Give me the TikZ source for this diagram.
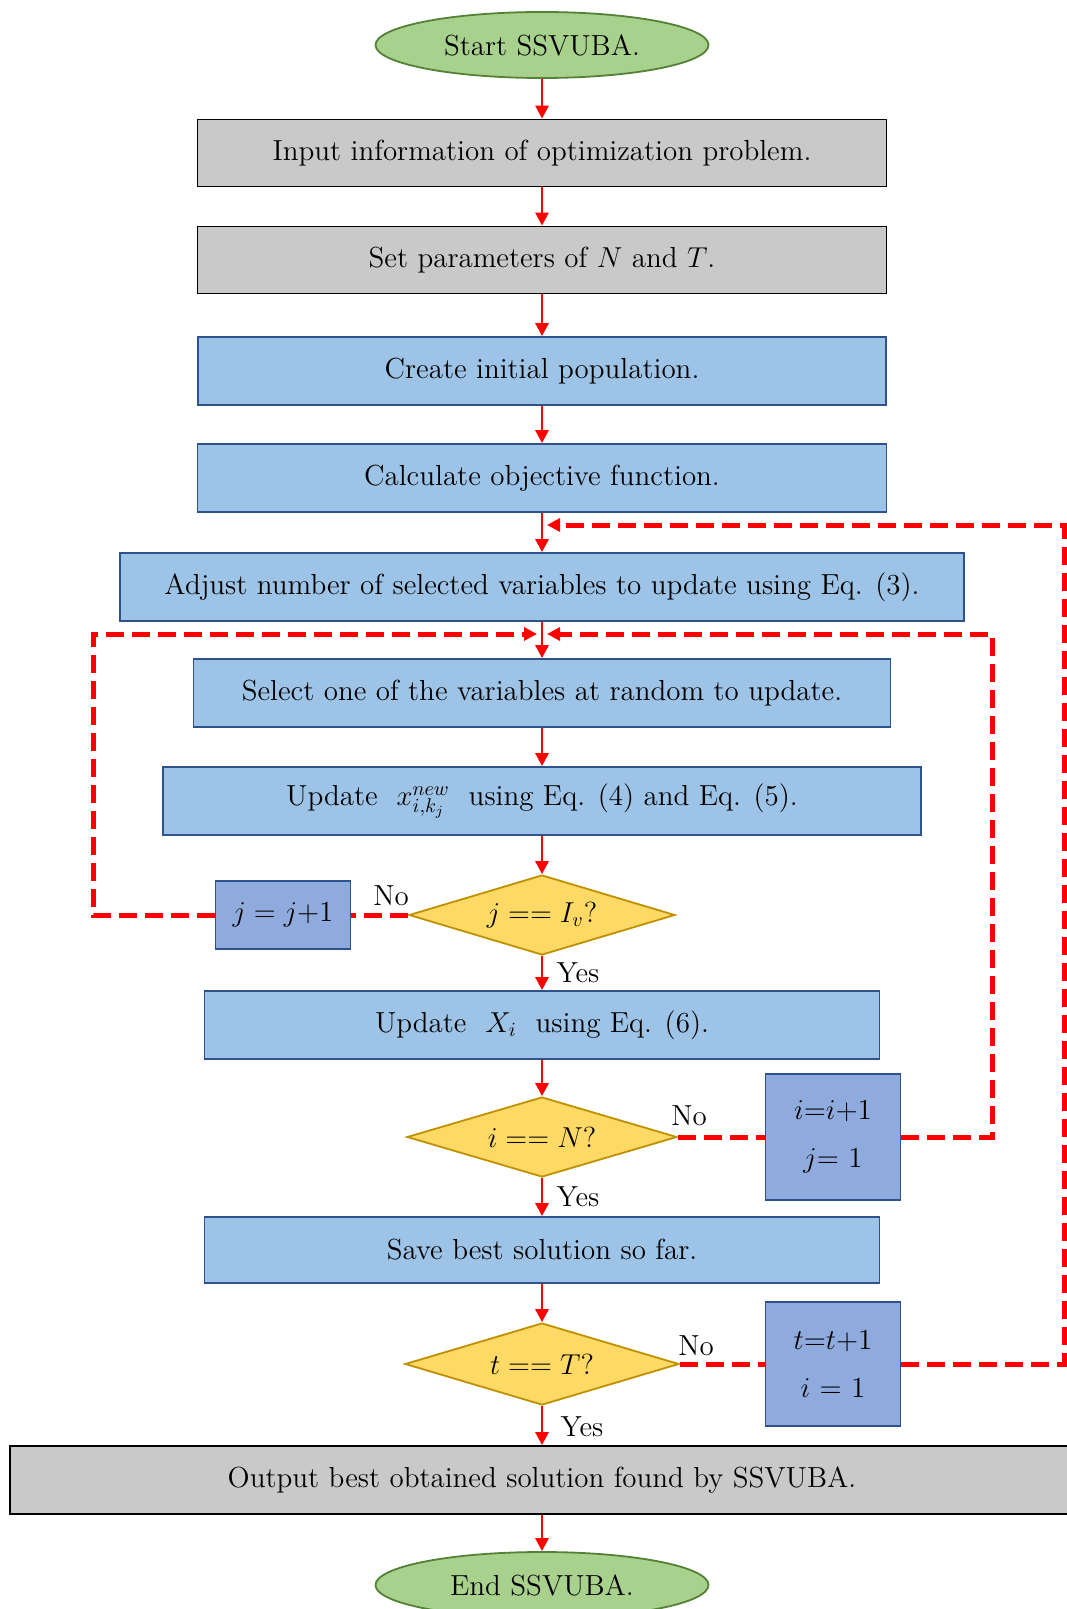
\documentclass[tikz,border=0pt]{standalone}
\usetikzlibrary{shapes.geometric}
\usetikzlibrary{arrows.meta}

\definecolor{greyfill}{HTML}{C9C9C9}
\definecolor{bluefill}{HTML}{9DC3E6}
\definecolor{incfill}{HTML}{8FAADC}
\definecolor{blueline}{HTML}{2F528F}
\definecolor{yellowfill}{HTML}{FFD966}
\definecolor{yellowline}{HTML}{BF9000}
\definecolor{greenfill}{HTML}{A9D18E}
\definecolor{greenline}{HTML}{538135}

\begin{document}
\begin{tikzpicture}[x=0.5pt,y=-0.5pt,
  every node/.style={font=\fontsize{14.5}{17}\selectfont,inner sep=0pt,line width=0.9pt},
  terminal/.style={ellipse,draw=greenline,fill=greenfill,minimum width=166.5pt,minimum height=33pt},
  greybox/.style={draw=black,fill=greyfill,minimum height=33.5pt},
  bluebox/.style={draw=blueline,fill=bluefill,minimum height=34pt},
  incbox/.style={draw=blueline,fill=incfill,minimum width=67.5pt,align=center},
  decision/.style={diamond,draw=yellowline,fill=yellowfill,aspect=3.3},
  lbl/.style={inner sep=1pt},
  flow/.style={red,line width=1.4pt,->},
  backflow/.style={red,line width=2.5pt,dash pattern=on 9pt off 4pt},
  >={Triangle[length=6.5pt,width=6.5pt]}]
\useasboundingbox (0,0) rectangle (1066,1609);

\node[terminal](start) at (542, 45) {Start SSVUBA.};
\node[greybox,minimum width=344.5pt](inp) at (542, 153) {Input information of optimization problem.};
\node[greybox,minimum width=344.5pt](par) at (542, 260) {Set parameters of $N$ and $T$.};
\node[bluebox,minimum width=344pt](pop) at (542, 371) {Create initial population.};
\node[bluebox,minimum width=344.5pt](fit) at (542, 478) {Calculate objective function.};
\node[bluebox,minimum width=422pt](adj) at (542, 587) {Adjust number of selected variables to update using Eq. (3).};
\node[bluebox,minimum width=348.5pt](sel) at (542, 693) {Select one of the variables at random to update.};
\node[bluebox,minimum width=379pt](upd) at (542, 801) {Update\ \ $x_{i,k_j}^{new}$\ \ using Eq. (4) and Eq. (5).};

\node[decision,minimum width=133pt,minimum height=40pt](dj) at (542, 915) {$j == I_v$?};
\node[incbox,minimum height=34pt](jinc) at (283, 915) {$j = j$+1};

\node[bluebox,minimum width=337.5pt](updX) at (542, 1025) {Update\ \ $X_i$\ \ using Eq. (6).};
\node[decision,minimum width=135pt,minimum height=40pt](di) at (542, 1137) {$i == N$?};
\node[incbox,minimum height=63pt](iinc) at (833, 1137) {$i$=$i$+1\\[7pt]$j$= 1};

\node[bluebox,minimum width=337.5pt,minimum height=33pt](save) at (542, 1250) {Save best solution so far.};
\node[decision,minimum width=137pt,minimum height=41pt](dt) at (542, 1364) {$t == T$?};
\node[incbox,minimum height=62pt](tinc) at (833, 1364) {$t$=$t$+1\\[7pt]$i$ = 1};

\node[greybox,minimum width=532pt,minimum height=34pt](out) at (542, 1480) {Output best obtained solution found by SSVUBA.};
\node[terminal](stop) at (542, 1585) {End SSVUBA.};

\node[lbl](nj) at (391, 896) {No};
\node[lbl](yj) at (578, 973) {Yes};
\node[lbl](ni) at (689, 1116) {No};
\node[lbl](yi) at (578, 1197) {Yes};
\node[lbl](nt) at (696, 1346) {No};
\node[lbl](yt) at (582, 1427) {Yes};

\coordinate(jtop) at (93, 634); \coordinate(jin) at (537, 634);
\coordinate(itop) at (992, 634); \coordinate(iin) at (547, 634);
\coordinate(ttop) at (1064, 525); \coordinate(tin) at (547, 525);

\draw[flow] (start)--(inp); \draw[flow] (inp)--(par); \draw[flow] (par)--(pop);
\draw[flow] (pop)--(fit); \draw[flow] (fit)--(adj); \draw[flow] (adj)--(sel);
\draw[flow] (sel)--(upd); \draw[flow] (upd)--(dj); \draw[flow] (dj)--(updX);
\draw[flow] (updX)--(di); \draw[flow] (di)--(save); \draw[flow] (save)--(dt);
\draw[flow] (dt)--(out); \draw[flow] (out)--(stop);

\draw[backflow] (dj)--(jinc); \draw[backflow,->] (jinc.west) -| (jtop) -- (jin);
\draw[backflow] (di)--(iinc); \draw[backflow,->] (iinc.east) -| (itop) -- (iin);
\draw[backflow] (dt)--(tinc); \draw[backflow,->] (tinc.east) -| (ttop) -- (tin);
\end{tikzpicture}
\end{document}
